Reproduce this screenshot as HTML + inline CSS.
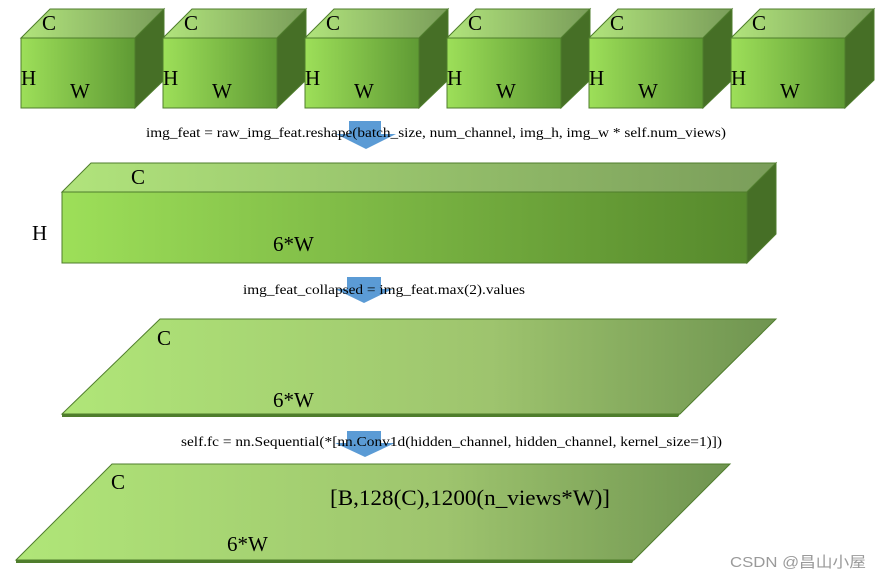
<!DOCTYPE html>
<html><head><meta charset="utf-8"><style>
html,body{margin:0;padding:0;background:#fff;width:883px;height:579px;overflow:hidden}
text{font-family:"Liberation Serif",serif;fill:#000}
</style></head><body>
<svg width="883" height="579" xmlns="http://www.w3.org/2000/svg">
<defs>
<linearGradient id="fr" x1="0" x2="1" y1="0" y2="0"><stop offset="0" stop-color="#9ddf59"/><stop offset="1" stop-color="#5f9a34"/></linearGradient>
<linearGradient id="tp" x1="0" x2="1" y1="0" y2="0"><stop offset="0" stop-color="#b1e47c"/><stop offset="1" stop-color="#7a9d5a"/></linearGradient>
<linearGradient id="bf" x1="0" x2="1" y1="0" y2="0"><stop offset="0" stop-color="#9ddf59"/><stop offset="1" stop-color="#56892c"/></linearGradient>
<linearGradient id="pl" x1="0" x2="1" y1="0" y2="0"><stop offset="0" stop-color="#b0e678"/><stop offset="0.6" stop-color="#9ec46e"/><stop offset="1" stop-color="#6f9450"/></linearGradient>
<g id="cube">
<polygon points="0,29 29,0 143,0 114,29" fill="url(#tp)" stroke="#4f7d2c" stroke-width="1"/>
<polygon points="114,29 143,0 143,71 114,99" fill="#466f26" stroke="#4f7d2c" stroke-width="1"/>
<rect x="0" y="29" width="114" height="70" fill="url(#fr)" stroke="#4f7d2c" stroke-width="1"/>
<text x="21" y="21" font-size="21">C</text>
<text x="0" y="76" font-size="21">H</text>
<text x="49" y="89" font-size="21">W</text>
</g>
</defs>
<use href="#cube" x="21" y="9"/>
<use href="#cube" x="163" y="9"/>
<use href="#cube" x="305" y="9"/>
<use href="#cube" x="447" y="9"/>
<use href="#cube" x="589" y="9"/>
<use href="#cube" x="731" y="9"/>

<polygon points="349,121 381,121 381,134 396,134 366,149 336,134 349,134" fill="#5b9bd5"/>
<text x="146" y="137" font-size="14" textLength="580" lengthAdjust="spacingAndGlyphs">img_feat = raw_img_feat.reshape(batch_size, num_channel, img_h, img_w * self.num_views)</text>

<polygon points="62,192 91,163 776,163 747,192" fill="url(#tp)" stroke="#4f7d2c"/>
<polygon points="747,192 776,163 776,234 747,263" fill="#466f26" stroke="#4f7d2c"/>
<rect x="62" y="192" width="685" height="71" fill="url(#bf)" stroke="#4f7d2c"/>
<text x="131" y="184" font-size="21">C</text>
<text x="32" y="240" font-size="21">H</text>
<text x="273" y="251" font-size="21">6*W</text>

<polygon points="347,277 381,277 381,289 393,289 364,303 335,289 347,289" fill="#5b9bd5"/>
<text x="243" y="294" font-size="14" textLength="282" lengthAdjust="spacingAndGlyphs">img_feat_collapsed = img_feat.max(2).values</text>

<polygon points="62,414 680,414 678,417 62,417" fill="#4f7d2c"/>
<polygon points="62,414 160,319 776,319 680,414" fill="url(#pl)" stroke="#4f7d2c"/>
<text x="157" y="345" font-size="21">C</text>
<text x="273" y="407" font-size="21">6*W</text>

<polygon points="347,431 381,431 381,443 395,443 365,457 335,443 347,443" fill="#5b9bd5"/>
<text x="181" y="446" font-size="14" textLength="541" lengthAdjust="spacingAndGlyphs">self.fc = nn.Sequential(*[nn.Conv1d(hidden_channel, hidden_channel, kernel_size=1)])</text>

<polygon points="16,560 634,560 632,563 16,563" fill="#4f7d2c"/>
<polygon points="16,560 112,464 730,464 634,560" fill="url(#pl)" stroke="#4f7d2c"/>
<text x="111" y="489" font-size="21">C</text>
<text x="330" y="505" font-size="22" textLength="280" lengthAdjust="spacingAndGlyphs">[B,128(C),1200(n_views*W)]</text>
<text x="227" y="551" font-size="21">6*W</text>

<text x="730" y="567" font-size="15" textLength="136" lengthAdjust="spacingAndGlyphs" style="font-family:'Liberation Sans','Noto Sans CJK SC',sans-serif;fill:#9a9a9a">CSDN @昌山小屋</text>
</svg>
</body></html>
